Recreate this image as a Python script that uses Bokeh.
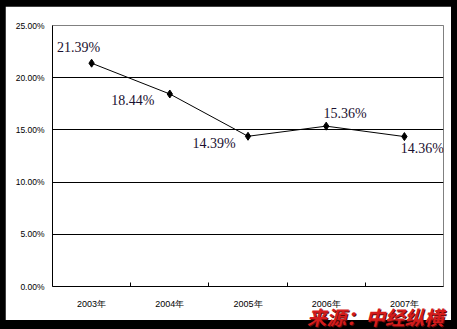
from bokeh.plotting import figure
from bokeh.models import Range1d, FixedTicker, NumeralTickFormatter, ColumnDataSource, Div
from bokeh.layouts import column
from bokeh.embed import file_html
from bokeh.resources import INLINE
from bokeh.core.properties import value

years = ["2003年", "2004年", "2005年", "2006年", "2007年"]
rates = [21.39, 18.44, 14.39, 15.36, 14.36]
rate_labels = ["21.39%", "18.44%", "14.39%", "15.36%", "14.36%"]
y_ticks = [0.0, 0.05, 0.10, 0.15, 0.20, 0.25]
source_note = "来源：中经纵横"

# label placement (styling, screen px)
lab_dx = [-13, -37, -34, 19, 18]
lab_dy = [-16, 7, 7, -13, 12]

xs = [i + 0.5 for i in range(len(years))]
ys = [r / 100 for r in rates]

p = figure(width=446, height=314, output_backend="svg", toolbar_location=None,
           x_range=Range1d(0, len(years)), y_range=Range1d(0, 0.25),
           min_border_left=47, min_border_right=8, min_border_top=19, min_border_bottom=34,
           background_fill_color="white", border_fill_color="white")
p.outline_line_color = "#808080"
p.outline_line_width = 1

p.xgrid.visible = False
p.ygrid.ticker = FixedTicker(ticks=[0.05, 0.10, 0.15, 0.20])
p.ygrid.grid_line_color = "black"
p.ygrid.grid_line_width = 1

p.xaxis.ticker = FixedTicker(ticks=xs, minor_ticks=[1, 2, 3, 4])
p.xaxis.major_label_overrides = {x: y for x, y in zip(xs, years)}
p.xaxis.major_tick_in = 0
p.xaxis.major_tick_out = 0
p.xaxis.minor_tick_in = 4
p.xaxis.minor_tick_out = 0
p.xaxis.minor_tick_line_color = "black"
p.xaxis.axis_line_color = "black"
p.xaxis.major_label_text_font = "Liberation Sans"
p.xaxis.major_label_text_font_size = "9px"
p.xaxis.major_label_text_color = "black"
p.xaxis.major_label_standoff = 12

p.yaxis.ticker = FixedTicker(ticks=y_ticks)
p.yaxis.formatter = NumeralTickFormatter(format="0.00%")
p.yaxis.major_tick_in = 0
p.yaxis.major_tick_out = 0
p.yaxis.minor_tick_line_color = None
p.yaxis.axis_line_color = "black"
p.yaxis.major_label_text_font = "Liberation Sans"
p.yaxis.major_label_text_font_size = "8.5px"
p.yaxis.major_label_text_color = "black"
p.yaxis.major_label_standoff = 8

src = ColumnDataSource(dict(x=xs, y=ys, t=rate_labels, dx=lab_dx, dy=lab_dy))
p.line("x", "y", source=src, line_color="black", line_width=1)
p.scatter("x", "y", source=src, marker="diamond", size=8, color="black")
p.text("x", "y", text="t", source=src, x_offset="dx", y_offset="dy",
       text_align="center", text_baseline="middle",
       text_font=value("Liberation Serif"), text_font_size="14px", text_color="#1a1030")

note = Div(text=source_note,
           styles={"position": "absolute", "left": "307px", "top": "307px",
                   "width": "148px", "height": "20px", "overflow": "visible",
                   "font-family": "'Noto Sans CJK SC'", "font-weight": "bold",
                   "font-style": "italic", "font-size": "19.5px", "line-height": "19px",
                   "color": "#d41c1c", "text-shadow": "1px 1px 0 #5a0a0a",
                   "white-space": "nowrap", "margin": "0", "padding": "0",
                   "z-index": "10"})

layout = column(p, note, styles={"background-color": "black", "padding": "6px 6px 9px 5px",
                                 "position": "relative"})
open("out.html", "w").write(file_html(layout, INLINE))
